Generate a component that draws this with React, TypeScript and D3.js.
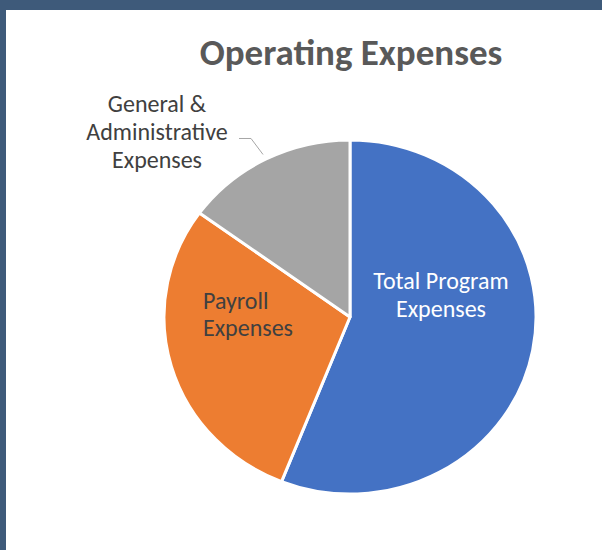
import { useRef, useEffect } from 'react'
import * as d3 from 'd3'

const categories = ['Total Program Expenses', 'Payroll Expenses', 'General & Administrative Expenses']
const values = [56, 29, 15]
const labelLines = [['Total Program', 'Expenses'], ['Payroll', 'Expenses'], ['General &', 'Administrative', 'Expenses']]
const colors = ['#4472C4', '#ED7D31', '#A5A5A5']
const title = 'Operating Expenses'

const width = 602
const height = 550
const fontFamily = "Carlito, Calibri, 'Open Sans', sans-serif"

function drawChart(target: SVGSVGElement) {
  const svg = d3.select(target)
  svg.selectAll('*').remove()

  // slide background + white chart panel
  svg.append('rect').attr('width', width).attr('height', height).attr('fill', '#3e5a7a')
  svg.append('rect').attr('x', 6).attr('y', 10).attr('width', width - 6).attr('height', height - 10).attr('fill', '#ffffff')

  svg
    .append('text')
    .attr('x', 351)
    .attr('y', 65)
    .attr('text-anchor', 'middle')
    .attr('font-family', fontFamily)
    .attr('font-weight', 700)
    .attr('font-size', 37)
    .attr('fill', '#595959')
    .text(title)

  const cx = 350
  const cy = 317
  const radius = 186
  const squash = 0.952 // the source picture is a bit flattened vertically

  const data = categories.map((name, i) => ({ name, value: values[i], lines: labelLines[i], color: colors[i] }))
  const pie = d3
    .pie<any>()
    .sort(null)
    .value((d) => d.value)
  const arcs = pie(data)
  const arc = d3.arc<any>().innerRadius(0).outerRadius(radius)

  const pieGroup = svg.append('g').attr('transform', `translate(${cx},${cy}) scale(1,${squash})`)

  pieGroup
    .selectAll('.slice')
    .data(arcs)
    .enter()
    .append('path')
    .attr('class', 'slice')
    .attr('d', arc)
    .attr('fill', (d) => d.data.color)
    .attr('stroke', '#ffffff')
    .attr('stroke-width', 3)
    .attr('stroke-linejoin', 'round')
    .attr('vector-effect', 'non-scaling-stroke')

  const pt = (angle: number, r: number) => [cx + Math.sin(angle) * r, cy - Math.cos(angle) * r * squash]
  const lineH = 28
  const fontSize = 24

  const addLabel = (lines: string[], x: number, y: number, anchor: string, fill: string, step: number) => {
    svg
      .append('text')
      .attr('text-anchor', anchor)
      .attr('font-family', fontFamily)
      .attr('font-size', fontSize)
      .attr('fill', fill)
      .selectAll('tspan')
      .data(lines)
      .enter()
      .append('tspan')
      .attr('x', x)
      .attr('y', (d, i) => y + i * step)
      .text((d) => d)
  }

  // Total Program label (inside, white)
  addLabel(arcs[0].data.lines, cx + 91, cy - 28, 'middle', '#ffffff', lineH)

  // Payroll label (inside, dark)
  addLabel(arcs[1].data.lines, cx - 147, cy - 8, 'start', '#404040', 27)

  // General & Administrative label (outside, with leader line)
  const gray = arcs[2]
  const grayMid = (gray.startAngle + gray.endAngle) / 2
  const edge = pt(grayMid, radius * 1.03)
  const elbow = [edge[0] - 12, edge[1] - 16]
  const tail = [elbow[0] - 12, elbow[1]]
  svg
    .append('path')
    .attr('d', d3.line()([tail, elbow, edge] as [number, number][]))
    .attr('fill', 'none')
    .attr('stroke', '#a6a6a6')
    .attr('stroke-width', 1)

  addLabel(gray.data.lines, tail[0] - 82, tail[1] - 26, 'middle', '#404040', lineH)
}

export default function App() {
  const targetSVG = useRef<SVGSVGElement>(null)

  useEffect(() => {
    if (targetSVG.current) drawChart(targetSVG.current)
  }, [])

  return (
    <svg ref={targetSVG} width={width} height={height} style={{ position: 'absolute', left: 0, top: 0 }} />
  )
}
